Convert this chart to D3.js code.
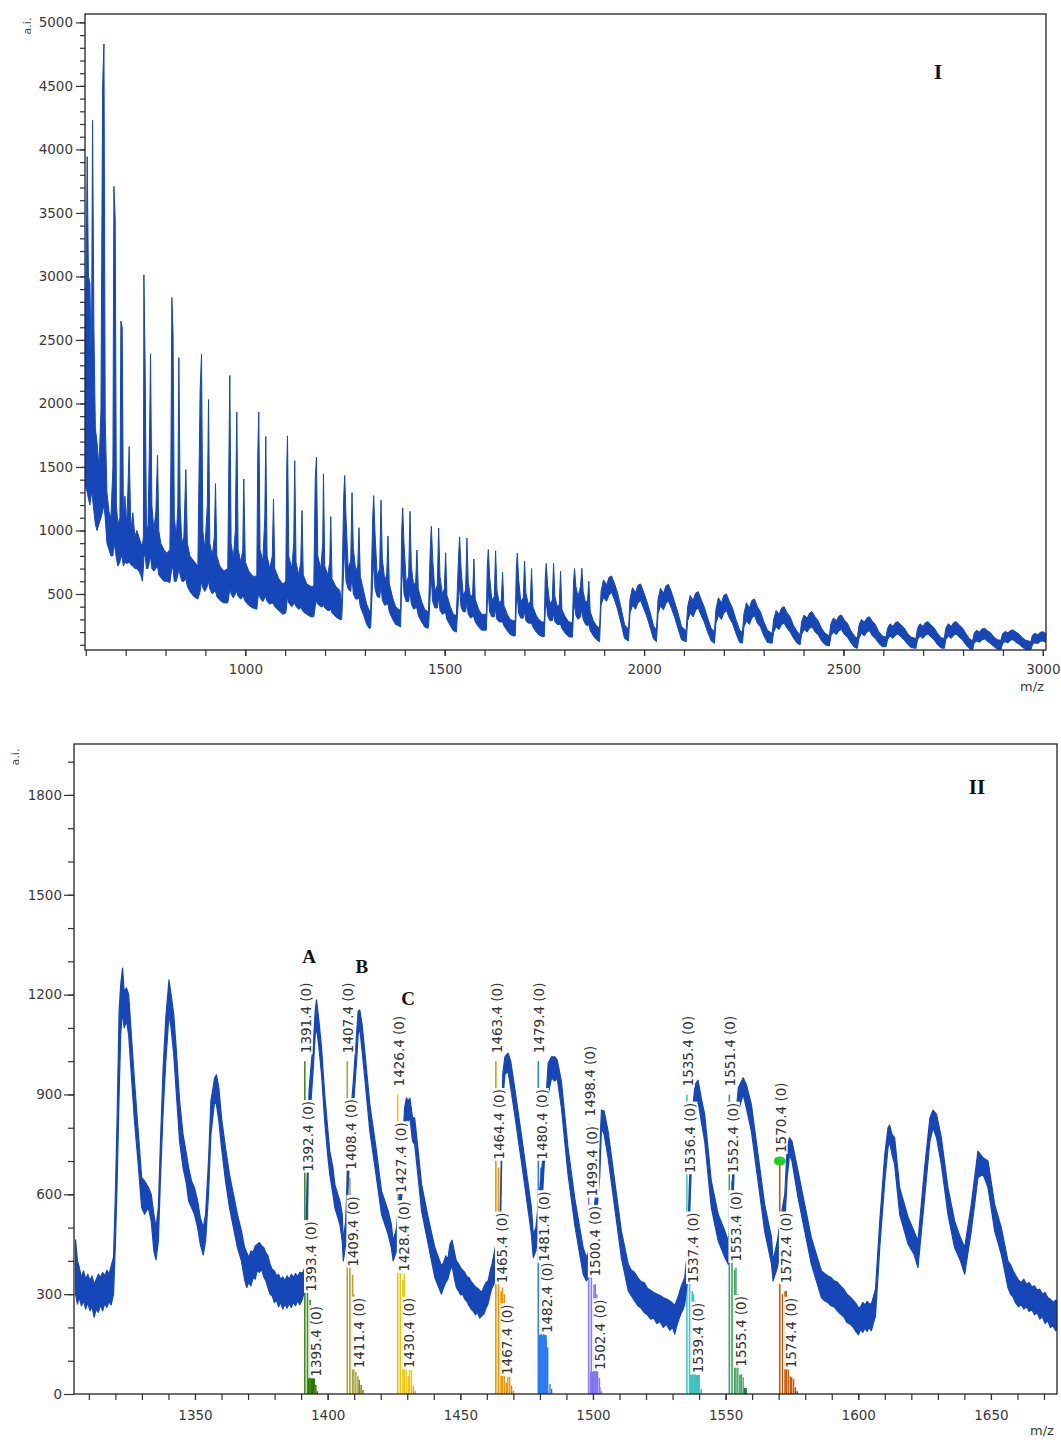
<!DOCTYPE html>
<html>
<head>
<meta charset="utf-8">
<title>MALDI spectra I / II</title>
<script src="https://cdn.jsdelivr.net/npm/d3@7/dist/d3.min.js"></script>
<style>
  body { margin: 0; background: #fff; }
</style>
</head>
<body>
<script>
// ---------- data, panel I : [m/z, low edge, high edge] of the noisy trace ----------
var spec1 = [
  [599,1350,2500],[603.5,1300,3943],[606.6,1250,3000],[610.3,1200,2950],[614,1300,2200],
  [617,1250,4229],[620.3,1150,2600],[624,1050,1800],[628,1000,1700],[633,1050,1500],
  [638,1100,1940],[642.2,1150,4496],[645.5,1200,4830],[648.7,1100,1886],[653,900,1300],
  [658,850,1150],[663,800,1100],[668,800,1500],[670.5,900,3709],[673.7,850,3454],
  [676.7,780,1200],[680.5,720,1050],[685.5,750,1100],[688,800,2648],[691.3,780,2600],
  [694.3,720,1100],[698,750,1270],[703,740,1050],[708.8,750,1660],[713,730,1000],
  [718,720,1140],[723,700,950],[728,700,1000],[733,680,950],[738,650,900],
  [741.9,600,880],[744.4,700,950],[745.7,800,3013],[748.9,800,2252],[752,700,1050],
  [755.7,700,1000],[759.4,750,1630],[762.4,800,2391],[765.7,700,1200],[770.7,680,1000],
  [775.7,700,1150],[780,720,1591],[783,650,1000],[788,630,900],[795.8,600,850],
  [803.3,600,820],[810.8,590,850],[813.3,650,1500],[815.8,700,2833],[818.8,700,2557],
  [822,600,1100],[827,600,950],[830.8,650,1200],[833.4,700,2360],[836.6,650,1200],
  [840.9,600,900],[845.9,600,950],[850.9,620,1479],[854.6,560,900],[860.9,520,800],
  [870.9,480,760],[881,460,720],[886.7,520,2100],[890.2,600,2389],[893.5,550,1000],
  [898.5,520,850],[904.8,560,1200],[907.8,600,2030],[911,540,900],[917.3,500,800],
  [922.3,520,950],[925.3,520,1369],[928.6,480,800],[936,450,720],[946,430,680],
  [956,430,700],[958.7,480,1500],[961.2,550,2220],[964.4,500,900],[970,470,780],
  [975,500,1000],[978.7,520,1932],[982,480,850],[988.7,460,750],[993.7,480,850],
  [996.2,470,1405],[1000,440,750],[1008.8,410,680],[1018.8,390,640],[1028.8,380,640],
  [1031.3,450,1600],[1033.8,520,1932],[1037,470,850],[1043.9,440,760],[1048.9,470,1100],
  [1051.4,480,1740],[1054.6,440,800],[1061.4,420,700],[1067.7,430,800],[1070.7,420,1248],
  [1073.9,400,700],[1083.9,370,620],[1094,340,580],[1101.5,350,600],[1104,420,1500],
  [1105.8,480,1745],[1109,430,800],[1116.5,400,700],[1121.5,420,900],[1124,430,1550],
  [1127.3,400,750],[1134,380,650],[1139,390,750],[1142.3,380,1157],[1145.3,360,650],
  [1154.1,340,580],[1164.1,320,560],[1171.7,320,560],[1175.4,400,1400],[1178.4,450,1577],
  [1181.7,420,800],[1189.2,400,700],[1194.2,400,900],[1196,420,1446],[1199.2,390,720],
  [1206.7,370,650],[1211.8,370,750],[1214.3,380,1110],[1217.5,350,620],[1226.8,320,560],
  [1236.8,300,530],
  [1241.8,300,430],[1246.8,700,1266],[1249.3,860,1432],[1252.6,600,1100],[1258,540,700],
  [1264.3,520,760],[1267.6,640,1298],[1270.9,500,860],[1277,460,680],[1282,460,720],
  [1285.1,470,1022],[1288.4,400,640],[1297,330,520],[1304.4,260,420],[1312,225,360],
  [1314.5,240,380],[1319.5,620,1100],[1322,760,1274],[1325.3,540,980],[1330.8,480,640],
  [1337,470,700],[1340.3,570,1239],[1343.6,450,780],[1349.6,410,610],[1354.6,420,650],
  [1357.8,420,957],[1361.1,360,580],[1369.6,300,470],[1377,260,400],[1384.5,250,380],
  [1389.5,240,370],[1392.2,580,1000],[1394.7,700,1178],[1398,500,900],[1403.5,440,590],
  [1409.7,440,640],[1413,530,1150],[1416.3,420,720],[1422.3,380,560],[1427.3,390,600],
  [1430.5,390,846],[1433.8,330,540],[1442.3,280,440],[1449.8,240,380],[1457.4,230,360],
  [1459.5,235,370],[1464.1,520,880],[1466.6,620,1033],[1469.9,440,780],[1475.4,390,520],
  [1481.6,390,570],[1484.9,470,1020],[1488.2,370,640],[1494.2,340,500],[1499.2,350,540],
  [1502.4,350,825],[1505.7,300,490],[1514.2,250,400],[1521.7,210,340],[1529.3,200,330],
  [1535,480,810],[1537.5,570,950],[1540.8,400,720],[1546.3,360,490],[1552.5,360,530],
  [1555.8,430,940],[1559.1,340,590],[1565.1,310,470],[1570.1,320,500],[1573.3,320,775],
  [1576.6,280,460],[1585.1,240,380],[1592.6,215,340],[1600.2,215,340],[1604.5,215,340],
  [1606.9,430,720],[1609.4,510,850],[1612.7,360,640],[1618.2,320,450],[1624.4,320,480],
  [1627.7,380,840],[1631,300,530],[1637,280,430],[1642,280,450],[1645.2,280,670],
  [1648.5,250,410],[1657,210,340],[1664.5,180,300],[1672.1,170,290],[1677,170,290],
  [1679.6,410,700],[1682.1,490,822],[1685.4,350,620],[1690.9,310,440],[1697.1,310,470],
  [1700.4,360,760],[1703.7,290,510],[1709.7,270,420],[1714.7,270,440],[1717.9,270,700],
  [1721.2,240,400],[1729.7,200,330],[1737.2,175,295],[1744.8,165,280],[1749.8,165,280],
  [1752.3,380,640],[1754.8,440,740],[1758.1,330,570],[1763.6,290,420],[1769.8,290,450],
  [1773.1,340,740],[1776.4,280,480],[1782.4,260,400],[1787.4,260,420],[1790.6,260,680],
  [1793.9,230,380],[1802.4,190,320],[1809.9,165,285],[1817.5,160,275],[1820.5,160,275],
  [1823.2,360,600],[1825.7,420,700],[1829,330,560],[1834.5,300,480],[1840.7,320,560],
  [1844,380,702],[1847.3,300,520],[1853.3,260,430],[1858.3,250,450],[1861.5,260,600],
  [1865,210,360],[1873,170,290],[1880.5,140,250],[1888.4,124,230],
  [1892.2,412,522],[1898.4,472,612],[1905.9,442,572],[1912.2,492,632],[1918.5,512,642],
  [1926,452,582],[1933.5,380,510],[1942.3,270,390],[1951.1,150,260],
  [1961,130,220],[1964.8,350,460],[1971,410,550],[1978.5,380,510],[1984.8,430,569],
  [1991.1,449,579],[1998.6,389,519],[2006.1,330,450],[2014.9,240,360],[2023.7,145,250],
  [2031.2,124,215],[2035,345,455],[2041.2,405,545],[2048.7,375,505],[2055,425,565],
  [2061.3,445,575],[2068.8,385,515],[2076.3,320,440],[2085.1,230,350],[2093.9,140,245],
  [2105.6,124,210],[2109.4,290,400],[2115.6,350,488],[2123.1,320,450],[2129.4,370,508],
  [2135.7,390,518],[2143.2,330,458],[2150.7,280,400],[2159.5,200,310],[2168.3,130,230],
  [2176.5,112,200],[2180.3,270,380],[2186.5,330,470],[2194,300,430],[2200.3,350,490],
  [2206.6,370,500],[2214.1,310,440],[2221.6,270,390],[2230.4,190,300],[2239.2,120,220],
  [2246.7,112,195],[2250.5,240,345],[2256.7,290,430],[2264.2,260,390],[2270.5,310,450],
  [2276.8,330,460],[2284.3,270,400],[2291.8,240,360],[2300.6,170,280],[2309.4,118,215],
  [2321.2,112,190],[2325,200,300],[2331.2,240,370],[2338.7,220,340],[2345,260,390],
  [2351.3,270,400],[2358.8,230,350],[2366.3,200,320],[2375.1,150,250],[2383.9,112,205],
  [2391.3,100,180],[2395.1,180,280],[2401.3,220,335],[2408.8,200,310],[2415.1,230,350],
  [2421.4,240,361],[2428.9,200,320],[2436.4,180,290],[2445.2,130,230],[2454,100,190],
  [2464.8,90,170],[2468.6,170,265],[2474.8,200,310],[2482.3,180,290],[2488.6,210,325],
  [2494.9,220,335],[2502.4,180,295],[2509.9,160,270],[2518.7,115,210],[2527.5,80,170],
  [2535,72,150],[2538.8,150,250],[2545,190,300],[2552.5,170,280],[2558.8,200,311],
  [2565.1,210,321],[2572.6,170,285],[2580.1,150,260],[2588.9,110,200],[2597.7,85,170],
  [2606.8,85,160],[2610.6,140,230],[2616.8,170,265],[2624.3,150,245],[2630.6,175,275],
  [2636.9,185,282],[2644.4,160,255],[2651.9,140,235],[2660.7,105,190],[2669.5,78,160],
  [2682,72,150],[2685.8,140,230],[2692,170,265],[2699.5,150,245],[2705.8,175,275],
  [2712.1,185,282],[2719.6,160,255],[2727.1,140,235],[2735.9,100,190],[2744.7,75,155],
  [2752.9,72,150],[2756.7,140,230],[2762.9,170,265],[2770.4,150,245],[2776.7,175,275],
  [2783,185,282],[2790.5,160,255],[2798,140,235],[2806.8,100,190],[2815.6,70,150],
  [2823.9,59,130],[2827.7,110,190],[2833.9,130,215],[2841.4,120,200],[2847.7,140,225],
  [2854,145,230],[2861.5,125,210],[2869,110,195],[2877.8,85,160],[2886.6,65,140],
  [2895,65,135],[2898.8,105,185],[2905,125,205],[2912.5,115,195],[2918.8,135,212],
  [2925.1,140,217],[2932.6,120,200],[2940.1,105,185],[2948.9,80,155],[2957.7,62,135],
  [2970,59,125],[2973.8,100,175],[2980,115,190],[2987.5,110,180],[2993.8,125,198],
  [3000,130,203],[3007,120,190]
];

// ---------- data, panel II ----------
var spec2 = [
  [1305,300,463],[1305.7,270,400],[1306.4,290,380],[1307.2,265,350],[1308,280,370],
  [1308.8,255,345],[1309.6,275,360],[1310.4,250,340],[1311.2,262,355],[1312,231,330],
  [1312.8,255,345],[1313.6,245,360],[1314.4,268,350],[1315.2,250,365],[1316,272,355],
  [1316.8,260,372],[1317.6,278,360],[1318.4,268,385],[1319.3,300,411],
  [1320,450,600],[1320.7,650,850],[1321.4,900,1150],[1322,1080,1230],[1322.7,1150,1280],
  [1323.3,1100,1210],[1324.2,1120,1220],[1325,1080,1200],[1326,960,1080],[1327.2,820,940],
  [1328.5,700,800],[1329.9,560,650],[1331,540,640],[1332.4,560,622],[1333.5,520,600],
  [1334.5,430,540],[1335.3,403,500],[1336.2,460,560],[1337,650,760],[1338,850,980],
  [1339,1000,1130],[1340.2,1140,1244],[1341,1100,1200],[1342,1020,1140],[1343,900,1030],
  [1344.2,760,880],[1345.5,680,780],[1346.8,630,720],[1347.6,580,680],[1348.7,560,640],
  [1349.8,540,620],[1351,500,580],[1352,450,530],[1353.1,418,500],[1354,460,540],
  [1355.1,600,700],[1356,780,880],[1357.4,880,950],[1358.1,870,959],[1359,820,920],
  [1360,740,830],[1361.5,640,740],[1363,560,660],[1364.5,500,600],[1366,440,540],
  [1367.5,400,490],[1368.7,343,440],[1369.5,320,425],[1370.3,335,410],[1371.1,325,430],
  [1371.9,350,425],[1372.7,345,445],[1373.5,372,450],[1374.3,365,455],[1375.1,375,445],
  [1375.9,352,440],[1376.7,340,425],[1377.5,320,415],[1378.3,300,390],[1379.1,295,375],
  [1379.9,275,370],[1380.7,282,355],[1381.5,262,360],[1382.3,275,345],[1383.1,255,352],
  [1383.9,270,340],[1384.7,258,355],[1385.5,272,345],[1386.3,260,360],[1387.1,276,350],
  [1387.9,265,362],[1388.7,280,352],[1389.5,268,366],[1390.5,285,363],
  [1391.5,320,380],[1392.5,600,720],[1393,800,913],[1393.9,900,1000],
  [1394.6,980,1050],[1395.3,1080,1150],[1395.8,1100,1184],[1396.6,1050,1130],[1397.7,960,1040],
  [1398.9,820,900],[1400,720,800],[1400.8,660,730],[1402,600,680],[1402.7,560,630],
  [1404.6,510,580],[1405.5,460,540],[1405.9,400,460],[1406.8,450,520],[1407.6,600,700],
  [1408.2,700,800],[1409.6,850,930],[1410.9,1000,1080],[1411.5,1080,1150],[1412.1,1100,1154],
  [1413,1030,1110],[1414,950,1030],[1415.9,790,870],[1418.4,650,730],[1420.3,540,610],
  [1422.8,480,550],[1424,440,510],[1424.7,400,460],[1426,430,500],[1428,600,700],
  [1429,780,860],[1429.7,830,890],[1430.3,820,880],[1431,830,889],[1432,760,830],
  [1432.8,750,830],[1434,660,740],[1435.4,550,630],[1437.9,450,530],[1440.4,350,440],
  [1442.9,300,385],[1443.7,320,395],[1444.5,335,415],[1445.3,345,405],[1446.1,370,450],
  [1446.9,385,462],[1447.7,350,430],[1448.5,320,400],[1449.3,310,392],[1450.1,298,380],
  [1450.9,300,372],[1451.7,285,365],[1452.5,278,352],[1453.3,265,350],[1454.1,255,338],
  [1454.9,248,330],[1455.7,238,322],[1456.5,245,318],[1457.3,228,312],[1458.1,235,305],
  [1458.9,240,322],[1459.7,258,335],[1460.5,272,340],[1461.3,300,372],[1461.9,318,388],
  [1462.7,330,420],[1465,430,520],[1466,880,960],[1466.8,960,1013],[1468,970,1024],
  [1469,920,1000],[1470.5,840,920],[1473,700,780],[1475.6,550,630],[1476.8,480,560],
  [1477.5,410,480],[1478.5,430,500],[1481,600,700],[1483.1,900,994],[1484.4,950,1013],
  [1485.6,940,1013],[1486.5,950,1004],[1488.1,860,940],[1490.6,660,740],[1493.1,510,590],
  [1495,420,500],[1496.3,360,440],[1497.5,340,410],[1499,360,440],[1501,500,600],
  [1502.6,660,740],[1503.2,800,853],[1504.2,780,850],[1505.7,710,790],[1508.2,560,640],
  [1510.7,410,490],[1513.3,310,390],[1514.5,295,372],[1515.7,280,365],[1516.9,265,350],
  [1518.1,258,338],[1519.3,245,335],[1520.5,238,318],[1521.7,225,312],[1522.9,228,305],
  [1524.1,212,300],[1525.3,218,296],[1526.5,200,290],[1527.7,210,285],[1528.9,192,280],
  [1530.1,198,272],[1530.8,180,265],[1531.6,205,282],[1532.4,225,300],[1533.2,242,322],
  [1534,255,338],[1534.6,270,350],[1535.5,330,420],[1536.5,560,660],
  [1537.5,760,850],[1538.5,860,930],[1539.6,880,943],[1540.8,820,890],[1542.1,760,840],
  [1544.6,560,640],[1547.2,460,540],[1549.7,410,490],[1551,390,460],[1552,450,540],
  [1553.4,700,800],[1554.8,850,920],[1556.6,900,950],[1557.8,860,930],[1559.7,790,870],
  [1562.2,640,720],[1564.7,490,570],[1567.3,390,470],[1567.9,340,400],[1569.5,380,460],
  [1571,450,540],[1572.3,510,600],[1573.2,650,740],[1574.1,720,770],[1575,700,760],
  [1577.3,590,670],[1579.8,490,570],[1582.3,390,470],[1586.1,290,370],[1587.3,280,362],
  [1588.5,275,355],[1589.7,265,350],[1590.9,262,340],[1592.1,250,336],[1593.3,240,325],
  [1594.5,232,315],[1595.7,215,300],[1596.9,210,292],[1598.1,200,282],[1599.3,185,270],
  [1600.1,178,258],[1600.9,195,262],[1601.7,185,275],[1602.5,198,268],[1603.3,188,278],
  [1604.1,200,272],[1604.9,190,270],[1605.7,212,292],[1606.5,235,315],
  [1608.1,440,520],[1610,640,720],[1611.2,740,800],[1611.8,760,808],[1612.7,720,780],
  [1613.7,690,770],[1615.6,540,620],[1618.8,450,530],[1621,420,490],[1622.5,380,460],
  [1625,590,680],[1627,760,830],[1628.2,800,853],[1629.5,770,840],[1631.3,690,770],
  [1633.8,540,620],[1636.3,440,520],[1638.5,400,470],[1640.1,360,440],[1642.6,490,570],
  [1645.1,650,730],[1647,660,710],[1648.9,620,700],[1651.4,490,570],[1653.9,420,500],
  [1656.4,320,400],[1657.4,300,388],[1658.4,290,370],[1659.4,272,355],[1660.4,262,342],
  [1661.4,270,335],[1662.4,255,345],[1663.4,262,330],[1664.4,248,335],[1665.4,255,322],
  [1666.4,238,325],[1667.4,245,312],[1668.4,225,315],[1669.4,232,300],[1670.4,212,305],
  [1671.4,220,290],[1672.4,200,285],[1673.4,205,275],[1674.4,190,282],[1675.4,195,280]
];

// annotated isotope clusters (panel II)
var clusterColors = ["#3f8f18","#aba53a","#f3c20c","#f39200","#2f7ef6","#8778f3","#45c7c4","#40a262","#c65808"];
var clusterDark   = ["#2a7300","#7f7b12","#dcaa00","#d97a00","#2a78f0","#7b6cf0","#36bdb9","#1e7d40","#a34400"];
var labeledSticks = [
  [[1391.4,1000],[1392.4,644],[1393.4,283],[1395.4,28]],
  [[1407.4,1000],[1408.4,650],[1409.4,358],[1411.4,53]],
  [[1426.4,900],[1427.4,580],[1428.4,343],[1430.4,53]],
  [[1463.4,1000],[1464.4,680],[1465.4,309],[1467.4,33]],
  [[1479.4,1000],[1480.4,680],[1481.4,373],[1482.4,159]],
  [[1498.4,810],[1499.4,569],[1500.4,329],[1502.4,48]],
  [[1535.4,900],[1536.4,639],[1537.4,309],[1539.4,38]],
  [[1551.4,900],[1552.4,639],[1553.4,373],[1555.4,58]],
  [[1570.4,700],[1572.4,309],[1574.4,53]]
];
var extraSticks = [
  [[1396.1,8]],
  [[1409.9,300],[1410.6,67],[1411.9,42],[1412.6,27],[1413.3,12]],
  [[1428.9,363],[1429.6,292],[1430.9,72],[1431.6,72],[1432.3,25],[1433,10]],
  [[1465.9,320],[1466.6,300],[1467.9,52],[1468.6,52],[1469.3,25],[1470,10]],
  [[1483.8,30],[1484.4,15]],
  [[1500.9,330],[1501.5,300],[1502.6,20],[1503.2,8]],
  [[1537.9,300],[1538.5,280],[1540.8,15]],
  [[1553.9,380],[1554.6,300],[1555.9,60],[1556.6,50]],
  [[1571.4,300],[1572.9,310],[1573.6,290],[1574.9,50],[1575.6,45],[1576.3,20],[1577,8]]
];
// filled groups of fine sticks: [cluster, from m/z, to m/z, height]
var stickBlocks = [
  [0,1392.6,1395.2,47],[0,1395.2,1395.8,27],
  [4,1479.4,1482.6,177],[4,1482.6,1483.2,140],
  [5,1498.9,1502,67],
  [6,1536.5,1540.3,57],
  [7,1556.6,1558,18]
];
var markedPeak = [1570.4,700];
var peakLetters = [["A",1393.0,1295],["B",1412.9,1265],["C",1430.3,1169]];

// axes
var xMajor1 = [1000,1500,2000,2500,3000];
var yMajor1 = [500,1000,1500,2000,2500,3000,3500,4000,4500,5000];
var xMajor2 = [1350,1400,1450,1500,1550,1600,1650];
var yMajor2 = [0,300,600,900,1200,1500,1800];

var blue = "#1547b9";

var svg = d3.select("body").append("svg")
  .attr("width",1061).attr("height",1440)
  .attr("font-family","DejaVu Sans");

var x1 = d3.scaleLinear().domain([598,3008]).range([85,1046]);
var y1 = d3.scaleLinear().domain([59,5066]).range([650,14]);
var x2 = d3.scaleLinear().domain([1304.4,1674.9]).range([74,1057]);
var y2 = d3.scaleLinear().domain([0,1953]).range([1394,744]);

var defs = svg.append("defs");
function clip(id, x, y){
  defs.append("clipPath").attr("id",id).append("rect")
    .attr("x",x.range()[0]).attr("y",y.range()[1])
    .attr("width",x.range()[1]-x.range()[0]).attr("height",y.range()[0]-y.range()[1]);
}
clip("c1",x1,y1);
clip("c2",x2,y2);

function drawAxes(x, y, o){
  var g = svg.append("g");
  var left = x.range()[0], bottom = y.range()[0];
  g.append("g").attr("transform","translate("+left+",0)")
    .call(d3.axisLeft(y).tickValues(o.yMinor).tickSize(o.yMinorLen).tickFormat(""));
  g.append("g").attr("transform","translate("+left+",0)")
    .call(d3.axisLeft(y).tickValues(o.yMajor).tickSize(o.yMajorLen).tickPadding(o.yPad).tickFormat(d3.format("d")));
  g.append("g").attr("transform","translate(0,"+bottom+")")
    .call(d3.axisBottom(x).tickValues(o.xMinor).tickSize(o.xLen).tickFormat(""));
  g.append("g").attr("transform","translate(0,"+bottom+")")
    .call(d3.axisBottom(x).tickValues(o.xMajor).tickSize(o.xLen).tickPadding(o.xPad).tickFormat(d3.format("d")));
  g.selectAll(".domain").remove();
  g.selectAll("line").attr("stroke","#333").attr("stroke-width",1.2);
  g.selectAll("text").attr("font-family","DejaVu Sans").attr("font-size",13.5).attr("fill","#3a3a3a");
  svg.append("rect")
    .attr("x",left).attr("y",y.range()[1])
    .attr("width",x.range()[1]-left).attr("height",bottom-y.range()[1])
    .attr("fill","none").attr("stroke","#222").attr("stroke-width",1.3);
}

function axisNames(xp, yp, mx, my){
  svg.append("text").attr("transform","translate("+xp+","+yp+") rotate(-90)")
    .attr("text-anchor","middle").attr("dy","0.35em")
    .attr("font-size",11).attr("fill","#444").text("a.i.");
  svg.append("text").attr("x",mx).attr("y",my)
    .attr("text-anchor","middle").attr("font-size",13).attr("fill","#3a3a3a").text("m/z");
}

function romanLabel(txt, x, y){
  svg.append("text").attr("x",x).attr("y",y)
    .attr("text-anchor","middle")
    .style("font-family","'Liberation Serif', 'DejaVu Serif', serif")
    .attr("font-weight","bold").attr("font-size",21).attr("fill","#111").text(txt);
}

// ---------- panel I ----------
var area1 = d3.area()
  .x(function(d){ return x1(d[0]); })
  .y0(function(d){ return y1(d[1]); })
  .y1(function(d){ return y1(d[2]); });

svg.append("path").datum(spec1)
  .attr("d",area1)
  .attr("fill",blue).attr("stroke",blue).attr("stroke-width",1)
  .attr("stroke-linejoin","round")
  .attr("clip-path","url(#c1)");

drawAxes(x1, y1, {
  yMinor: d3.range(100,5001,100), yMinorLen: 5,
  yMajor: yMajor1, yMajorLen: 9, yPad: 3,
  xMinor: d3.range(600,3001,100), xMajor: xMajor1, xLen: 6, xPad: 8
});
axisNames(27, 26, 1032, 691);
romanLabel("I", 938, 79);

// ---------- panel II ----------
var p2 = svg.append("g").attr("clip-path","url(#c2)");

stickBlocks.forEach(function(b){
  p2.append("rect")
    .attr("x",x2(b[1])).attr("y",y2(b[3]))
    .attr("width",x2(b[2])-x2(b[1])).attr("height",y2(0)-y2(b[3]))
    .attr("fill",clusterDark[b[0]]);
});

extraSticks.forEach(function(cl,ci){
  p2.selectAll(null).data(cl).enter().append("line")
    .attr("x1",function(d){ return x2(d[0]); }).attr("x2",function(d){ return x2(d[0]); })
    .attr("y1",y2(0)).attr("y2",function(d){ return y2(d[1]); })
    .attr("stroke",function(d){ return d[1] < 45 ? clusterDark[ci] : clusterColors[ci]; })
    .attr("stroke-width",1.4);
});

labeledSticks.forEach(function(cl,ci){
  p2.selectAll(null).data(cl).enter().append("line")
    .attr("x1",function(d){ return x2(d[0]); }).attr("x2",function(d){ return x2(d[0]); })
    .attr("y1",y2(0)).attr("y2",function(d){ return y2(d[1]); })
    .attr("stroke",clusterColors[ci]).attr("stroke-width",1.6);
});

var area2 = d3.area()
  .x(function(d){ return x2(d[0]); })
  .y0(function(d){ return y2(d[1]); })
  .y1(function(d){ return y2(d[2]); });

p2.append("path").datum(spec2)
  .attr("d",area2)
  .attr("fill",blue).attr("stroke",blue).attr("stroke-width",1.2)
  .attr("stroke-linejoin","round");

p2.append("ellipse")
  .attr("cx",x2(markedPeak[0])).attr("cy",y2(markedPeak[1]))
  .attr("rx",6).attr("ry",4.5).attr("fill","#1fd21f");

// stick labels with white backing
labeledSticks.forEach(function(cl){
  cl.forEach(function(d){
    var g = svg.append("g")
      .attr("transform","translate("+(x2(d[0])+1)+","+(y2(d[1])-8)+") rotate(-90)");
    var t = g.append("text")
      .attr("x",0).attr("y",0).attr("dy","0.36em")
      .attr("font-size",13.5).attr("fill","#333")
      .text(d[0].toFixed(1)+" (0)");
    var bb = t.node().getBBox();
    g.insert("rect","text")
      .attr("x",bb.x-1).attr("y",bb.y+1)
      .attr("width",bb.width+2).attr("height",bb.height-2)
      .attr("fill","#fff");
  });
});

peakLetters.forEach(function(d){
  svg.append("text").attr("x",x2(d[1])).attr("y",y2(d[2]))
    .attr("text-anchor","middle")
    .style("font-family","'Liberation Serif', 'DejaVu Serif', serif")
    .attr("font-weight","bold").attr("font-size",19).attr("fill","#111").text(d[0]);
});

drawAxes(x2, y2, {
  yMinor: d3.range(100,1901,100), yMinorLen: 6,
  yMajor: yMajor2, yMajorLen: 10, yPad: 2,
  xMinor: d3.range(1310,1671,10), xMajor: xMajor2, xLen: 6, xPad: 10
});
axisNames(15, 757, 1042, 1435);
romanLabel("II", 977, 794);
</script>
</body>
</html>
